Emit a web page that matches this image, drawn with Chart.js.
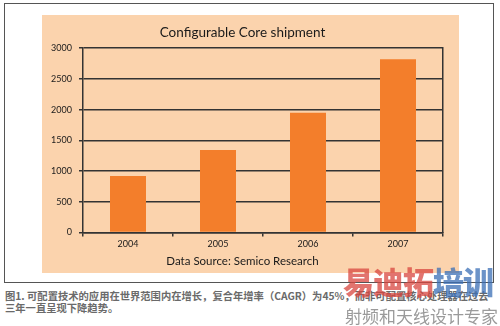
<!DOCTYPE html>
<html>
<head>
<meta charset="utf-8">
<script src="https://cdn.jsdelivr.net/npm/chart.js@4"></script>
<style>
  body { margin: 0; width: 500px; height: 326px; background: #fff; position: relative; overflow: hidden; font-family: Lato, "Open Sans", sans-serif; }
  #frame { position: absolute; left: 4px; top: 3px; width: 490px; height: 280px; border: 1px solid #555; box-sizing: border-box; }
  #panel { position: absolute; left: 42px; top: 15px; width: 417px; height: 258px; background: #fbd3ad; }
  #caption { position: absolute; left: 5px; top: 290px; font-family: "Noto Sans CJK SC", sans-serif; font-size: 10.3px; font-weight: bold; line-height: 12px; color: #6a6a6a; white-space: nowrap; }
  #wm1 { position: absolute; left: 343px; top: 258px; font-family: "Noto Sans CJK SC", sans-serif; font-weight: 900; font-size: 31px; letter-spacing: -1px; opacity: 0.75; white-space: nowrap; }
  #wm2 { position: absolute; left: 345px; top: 303px; font-family: "Noto Sans CJK SC", serif; font-size: 17px; color: #9a9a9a; white-space: nowrap; }
</style>
</head>
<body>
<div id="frame"></div>
<div id="panel"><canvas id="c" width="417" height="258"></canvas></div>
<div id="caption">图1. 可配置技术的应用在世界范围内在增长，复合年增率（CAGR）为45%，而非可配置核心处理器在过去<br>三年一直呈现下降趋势。</div>
<div id="wm1"><span style="color:#d9463f">易迪拓</span><span style="color:#3b6fb6">培训</span></div>
<div id="wm2">射频和天线设计专家</div>
<script>
// data
const years = ['2004', '2005', '2006', '2007'];
const shipments = [920, 1340, 1950, 2820];
const yTicks = [0, 500, 1000, 1500, 2000, 2500, 3000];

const LINE = '#333';

new Chart(document.getElementById('c'), {
  type: 'bar',
  data: {
    labels: years,
    datasets: [{ label: 'Configurable Core shipment', data: shipments, backgroundColor: '#f37e2b', barPercentage: 0.8, categoryPercentage: 0.5 }]
  },
  options: {
    responsive: false,
    animation: false,
    layout: { padding: { left: 0, right: 16, top: 0, bottom: 0 } },
    plugins: {
      legend: { display: false },
      tooltip: { enabled: false },
      title: {
        display: true, text: 'Configurable Core shipment', color: '#1a1a1a',
        font: { family: 'Lato', size: 13.5, weight: 'normal' }, padding: { top: 10, bottom: 7 }
      },
      subtitle: {
        display: true, position: 'bottom', text: 'Data Source: Semico Research', color: '#1a1a1a',
        font: { family: 'Lato', size: 11.5 }, padding: { top: 3, bottom: 5 }
      }
    },
    scales: {
      x: {
        grid: { display: true, drawOnChartArea: false, drawTicks: true, tickLength: 4, color: LINE, lineWidth: 1.5, offset: true },
        border: { color: LINE, width: 1.5 },
        ticks: { color: '#1a1a1a', font: { family: 'Lato', size: 9 }, padding: 2 }
      },
      y: {
        min: 0, max: 3000,
        afterBuildTicks: s => { s.ticks = yTicks.map(v => ({ value: v })); },
        afterFit: s => { s.width = 41; },
        grid: { color: LINE, lineWidth: 1.5, tickLength: 4 },
        border: { color: LINE, width: 1.5 },
        ticks: { color: '#1a1a1a', font: { family: 'Lato', size: 9 }, padding: 7, callback: v => String(v) }
      },
      y2: {
        position: 'right', min: 0, max: 3000,
        grid: { drawOnChartArea: false, drawTicks: false },
        border: { color: LINE, width: 1.5 },
        ticks: { display: false }
      }
    }
  }
});
</script>
</body>
</html>
